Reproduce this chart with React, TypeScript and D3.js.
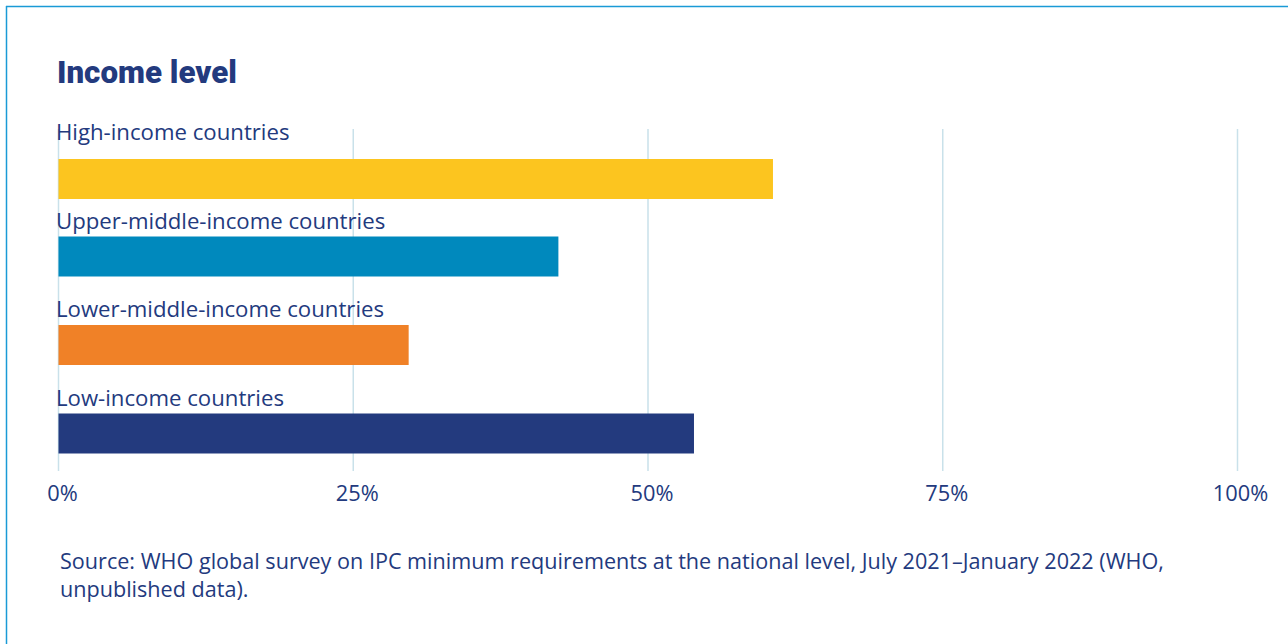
import React from "react";
import * as d3 from "d3";

const categories = [
  "High-income countries",
  "Upper-middle-income countries",
  "Lower-middle-income countries",
  "Low-income countries",
];
const values = [60.6, 42.4, 29.7, 53.9];
const barColors = ["#fcc51f", "#0089bd", "#f08127", "#233a7e"];
const ticks = [0, 25, 50, 75, 100];
const tickLabels = ["0%", "25%", "50%", "75%", "100%"];
const title = "Income level";
const sourceLines = [
  "Source: WHO global survey on IPC minimum requirements at the national level, July 2021\u2013January 2022 (WHO,",
  "unpublished data).",
];

const W = 1288;
const H = 644;
const navy = "#233a7e";
const font = "'Open Sans', 'Noto Sans', sans-serif";

export default function App() {
  const x = d3.scaleLinear().domain([0, 100]).range([58.5, 1237.5]);
  const y = d3
    .scaleBand<string>()
    .domain(categories)
    .range([129, 483])
    .paddingInner(0)
    .paddingOuter(0);
  const barH = 40;

  return (
    <svg
      width={W}
      height={H}
      style={{ position: "absolute", left: 0, top: 0, background: "#fff" }}
    >
      <rect x={0} y={0} width={W} height={H} fill="#fff" />
      <line x1={6} y1={6.5} x2={W} y2={6.5} stroke="#1a9ad6" strokeWidth={1.5} />
      <line x1={6.5} y1={6} x2={6.5} y2={H} stroke="#1a9ad6" strokeWidth={1.5} />
      <text
        x={57}
        y={83}
        fontFamily="Roboto, sans-serif"
        fontWeight={900}
        fontSize={31.3}
        fill={navy}
      >
        {title}
      </text>
      {ticks.map((t) => (
        <line
          key={"g" + t}
          x1={x(t)}
          x2={x(t)}
          y1={129}
          y2={471}
          stroke="#c9e1ea"
          strokeWidth={1.5}
        />
      ))}
      {categories.map((c, i) => {
        const base = (y(c) as number) + 11;
        const barTop = base + (i === 0 ? 19 : 8);
        return (
          <g key={c}>
            <rect
              x={x(0)}
              y={barTop}
              width={x(values[i]) - x(0)}
              height={barH}
              fill={barColors[i]}
            />
            <text
              x={56}
              y={base}
              fontFamily={font}
              fontSize={22.2}
              fill={navy}
            >
              {c}
            </text>
          </g>
        );
      })}
      {ticks.map((t, i) => (
        <text
          key={"t" + t}
          x={x(t) + (i === 4 ? 3 : 4)}
          y={501}
          textAnchor="middle"
          fontFamily={font}
          fontSize={21.8}
          fill={navy}
        >
          {tickLabels[i]}
        </text>
      ))}
      {sourceLines.map((s, i) => (
        <text
          key={i}
          x={60}
          y={569 + i * 28}
          fontFamily={font}
          fontSize={21.6}
          fill={navy}
        >
          {s}
        </text>
      ))}
    </svg>
  );
}
